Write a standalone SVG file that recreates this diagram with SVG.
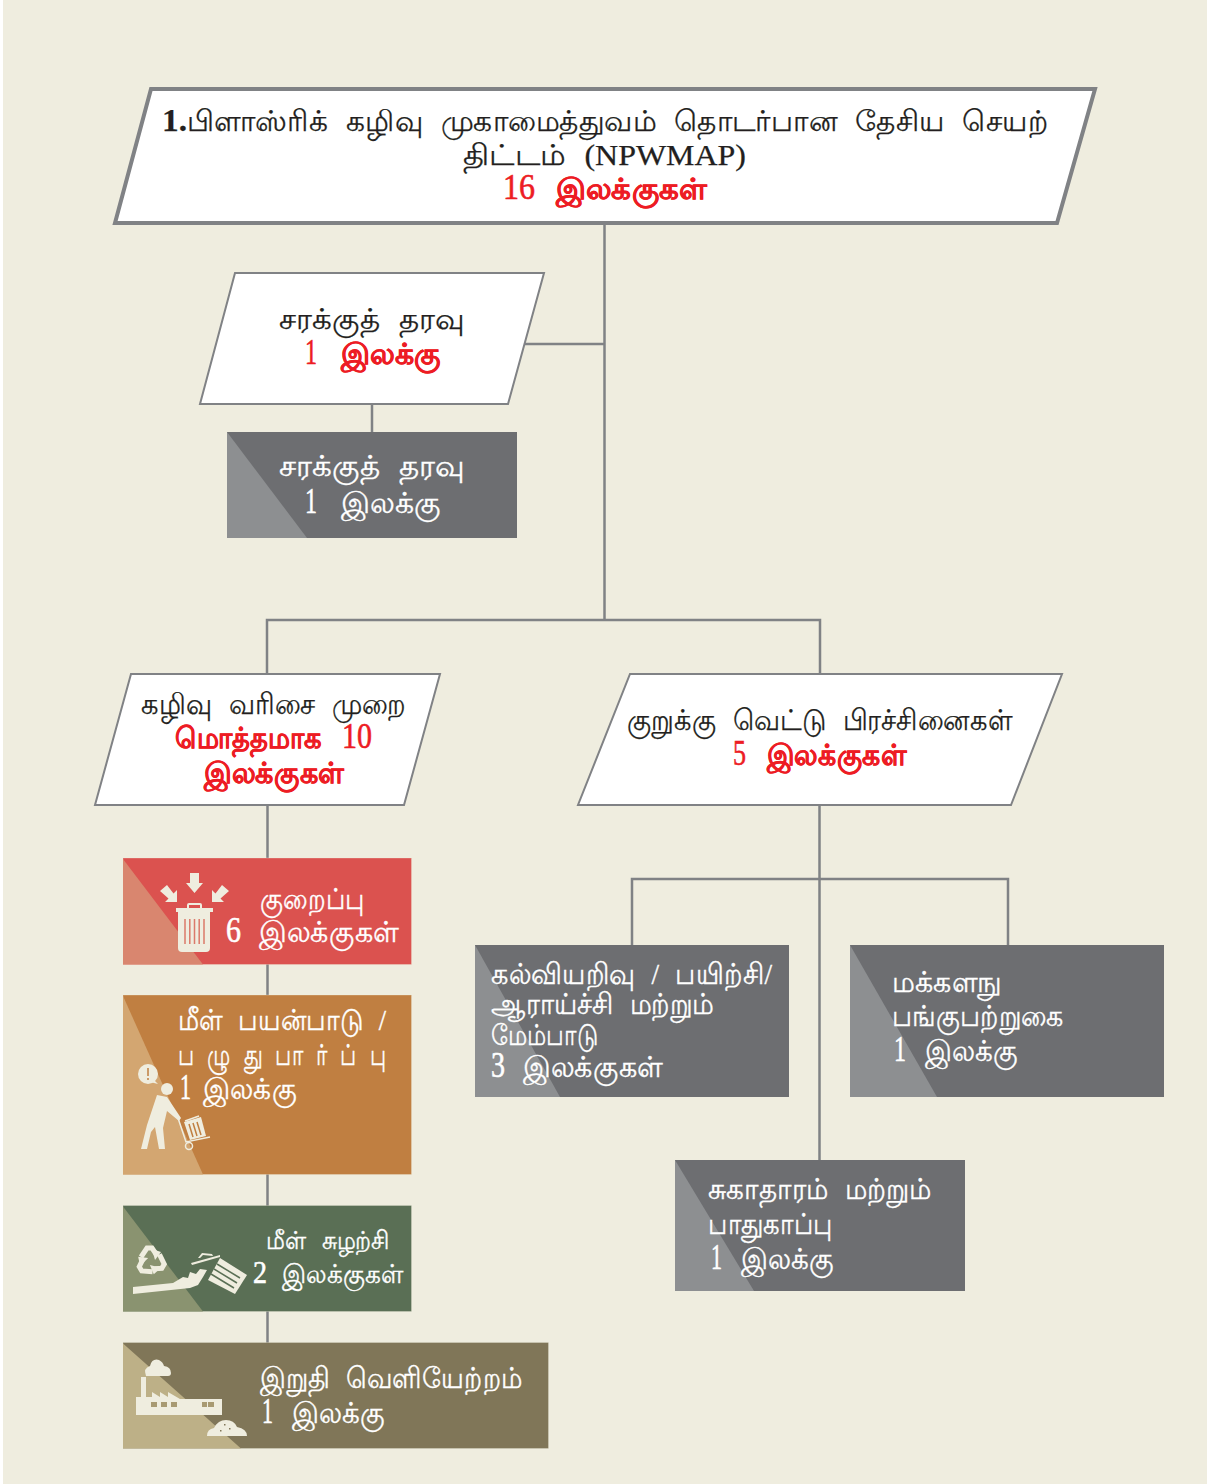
<svg xmlns="http://www.w3.org/2000/svg" width="1213" height="1484" viewBox="0 0 1213 1484">
<style>
text{font-family:"Liberation Serif","Noto Sans",serif;font-size:29px;word-spacing:10px}
.k{fill:#231f20;stroke:#231f20;stroke-width:.25}.r{fill:#ed1c24;stroke:#ed1c24;stroke-width:.3}.w{fill:#fff;stroke:#fff;stroke-width:.35}
.b{font-weight:bold}
.d{font-size:35px;font-weight:normal;stroke-width:.6}
.para{fill:#fff;stroke:#808285;stroke-width:2}
.wire{fill:none;stroke:#808285;stroke-width:2.5}
.ic{fill:#efeddf}
.edge{stroke:#efeddf;stroke-opacity:.3;stroke-width:1}
</style>
<defs>
<g id="rarrow"><path d="M-10 -4L-4 -13H1L5 -7" fill="none" stroke="#efeddf" stroke-width="5"/><path d="M1 -12L10 -9L4 -1Z" fill="#efeddf"/></g>
</defs>
<rect width="1213" height="1484" fill="#fff"/>
<rect x="3" y="0" width="1204" height="1484" fill="#efeddf"/>
<g id="connectors" class="wire">
<path d="M604.500 224V620M525 344H604.500M267 674V620H820V674M372 404V432"/>
<path d="M267.500 806V1343"/>
<path d="M819.500 806V1160M632 945V879H1008V945"/>
</g>
<g id="n-main">
<path d="M151 89H1095L1057 223H115Z" fill="#fff" stroke="#808285" stroke-width="4"/>
<text y="131" class="k"><tspan x="162" class="b" style="font-size:32px" textLength="25" lengthAdjust="spacingAndGlyphs">1.</tspan><tspan x="187" textLength="861" lengthAdjust="spacingAndGlyphs">பிளாஸ்ரிக் கழிவு முகாமைத்துவம் தொடர்பான தேசிய செயற்</tspan></text>
<text x="463" y="165" class="k" textLength="283" lengthAdjust="spacingAndGlyphs">திட்டம் (NPWMAP)</text>
<text y="199" class="r b"><tspan x="503" class="d" textLength="32" lengthAdjust="spacingAndGlyphs">16</tspan><tspan x="556" textLength="151" lengthAdjust="spacingAndGlyphs">இலக்குகள்</tspan></text>
</g>
<g id="n-cargo">
<path class="para" d="M235 273H544L508 404H200Z"/>
<text x="279" y="329" class="k" textLength="186" lengthAdjust="spacingAndGlyphs">சரக்குத் தரவு</text>
<text y="364" class="r b"><tspan x="305" class="d" textLength="12" lengthAdjust="spacingAndGlyphs">1</tspan><tspan x="341" textLength="100" lengthAdjust="spacingAndGlyphs">இலக்கு</tspan></text>
</g>
<g id="n-cargo-t">
<rect x="227" y="432" width="290" height="106" fill="#6d6e71"/>
<path d="M227 432V538H307Z" fill="#8d8f91"/>
<text x="279" y="476" class="w" textLength="186" lengthAdjust="spacingAndGlyphs">சரக்குத் தரவு</text>
<text y="513" class="w"><tspan x="305" class="d" textLength="12" lengthAdjust="spacingAndGlyphs">1</tspan><tspan x="341" textLength="100" lengthAdjust="spacingAndGlyphs">இலக்கு</tspan></text>
</g>
<g id="n-hier">
<path class="para" d="M131 674H440L404 805H95Z"/>
<text x="141" y="714" class="k" textLength="265" lengthAdjust="spacingAndGlyphs">கழிவு வரிசை முறை</text>
<text y="748" class="r b"><tspan x="175" textLength="147" lengthAdjust="spacingAndGlyphs">மொத்தமாக</tspan><tspan x="342" class="d" textLength="30" lengthAdjust="spacingAndGlyphs">10</tspan></text>
<text x="204" y="783" class="r b" textLength="140" lengthAdjust="spacingAndGlyphs">இலக்குகள்</text>
</g>
<g id="n-cross">
<path class="para" d="M630 674H1062L1011 805H578Z"/>
<text x="627" y="730" class="k" textLength="385" lengthAdjust="spacingAndGlyphs">குறுக்கு வெட்டு பிரச்சினைகள்</text>
<text y="765" class="r b"><tspan x="733" class="d" textLength="13" lengthAdjust="spacingAndGlyphs">5</tspan><tspan x="767" textLength="139" lengthAdjust="spacingAndGlyphs">இலக்குகள்</tspan></text>
</g>
<g id="n-reduce">
<rect class="edge" x="123" y="858" width="288.500" height="106.500" fill="#db524f"/>
<path d="M123 859V964.500H203Z" fill="#d9866f"/>
<g class="ic">
<path d="M190 873H199V883H203L194.500 893L186 883H190Z"/>
<path d="M160 891L167 885L173.500 893.500L177 890V902H165L168.500 898.500Z"/>
<path d="M229 891L222 885L215.500 893.500L212 890V902H224L220.500 898.500Z"/>
<path d="M176 908H213V912H176Z"/>
<path d="M187 908V905Q187 903 189 903H200Q202 903 202 905V908H200V905H189V908Z"/>
<path d="M178 912H210V948Q210 952 206 952H182Q178 952 178 948Z"/>
</g>
<path d="M185 919V944M189.800 919V944M194.500 919V944M199.200 919V944M204 919V944" stroke="#db7a6a" stroke-width="1.500"/>
<text x="260" y="909" class="w" textLength="105" lengthAdjust="spacingAndGlyphs">குறைப்பு</text>
<text y="942" class="w"><tspan x="226" class="d" textLength="15" lengthAdjust="spacingAndGlyphs">6</tspan><tspan x="259" textLength="140" lengthAdjust="spacingAndGlyphs">இலக்குகள்</tspan></text>
</g>
<g id="n-reuse">
<rect class="edge" x="123" y="995" width="288.500" height="179.500" fill="#c07f41"/>
<path d="M123 996V1174.500H203Z" fill="#d3a671"/>
<g class="ic">
<circle cx="148" cy="1074" r="10"/><path d="M150 1082L158 1084L152 1078Z"/>
<circle cx="167" cy="1089" r="6"/>
<path d="M157 1095L167 1097L181 1118L179 1121L167 1111L163 1128L165 1149L159 1149L155 1127L151 1132L147 1149L141 1149L147 1125Z"/>
<path d="M184 1122L201 1117L206 1136L190 1140Z"/>
<path d="M178 1118L186 1142L210 1137" fill="none" stroke="#efeddf" stroke-width="1.500"/>
<path d="M185 1121L199 1116" stroke="#efeddf" stroke-width="1.500"/>
<circle cx="189" cy="1146" r="3.500" fill="none" stroke="#efeddf" stroke-width="1.500"/>
</g>
<path d="M148 1068V1076M148 1078V1080M189 1124L193 1137M193 1123L197 1136M197 1122L201 1135" stroke="#c07f41" stroke-width="1.500"/>
<text x="178" y="1030" class="w" textLength="208" lengthAdjust="spacingAndGlyphs">மீள் பயன்பாடு /</text>
<text x="178" y="1065" class="w" textLength="208" lengthAdjust="spacingAndGlyphs">ப ழு து பா ர் ப் பு</text>
<text y="1099" class="w"><tspan x="180" class="d" textLength="11" lengthAdjust="spacingAndGlyphs">1</tspan><tspan x="203" textLength="94" lengthAdjust="spacingAndGlyphs">இலக்கு</tspan></text>
</g>
<g id="n-recycle">
<rect class="edge" x="123" y="1205.500" width="288.500" height="106" fill="#5a6f55"/>
<path d="M123 1206.500V1311.500H203Z" fill="#8a9370"/>
<use href="#rarrow" transform="translate(151 1261)"/>
<use href="#rarrow" transform="translate(151 1261) rotate(120)"/>
<use href="#rarrow" transform="translate(151 1261) rotate(240)"/>
<g class="ic">
<path d="M133 1287L173 1283L183 1277L188 1278L190 1272L196 1274L200 1269L207 1270L203 1277L198 1285L190 1288L133 1294Z"/>
<path d="M220 1258L247 1275L235 1294L208 1280Z"/>
<path d="M191 1263L220 1255L220 1257L192 1265Z"/>
<path d="M198 1258L202 1253L212 1254L213 1256L203 1255L200 1258Z"/>
</g>
<path d="M217 1264L240 1278M214 1269L237 1283M211 1274L234 1288" stroke="#5a6f55" stroke-width="1.500"/>
<text x="266" y="1249" class="w" textLength="124" lengthAdjust="spacingAndGlyphs" style="font-size:25px">மீள் சுழற்சி</text>
<text y="1283" class="w" style="font-size:26px"><tspan x="253" class="d" style="font-size:32px" textLength="14" lengthAdjust="spacingAndGlyphs">2</tspan><tspan x="282" textLength="121" lengthAdjust="spacingAndGlyphs">இலக்குகள்</tspan></text>
</g>
<g id="n-disposal">
<rect class="edge" x="123" y="1342.500" width="425.500" height="106" fill="#807658"/>
<path d="M123 1343.500V1448.500H241Z" fill="#bdb087"/>
<g class="ic">
<path d="M141 1377H146V1397H152V1392L160 1397V1392L168 1397V1392L180 1399H222V1415H136V1397H141Z"/>
<path d="M146 1376Q143 1368 150 1366Q152 1358 159 1360Q163 1362 164 1366Q171 1367 171 1373Q171 1376 168 1376Z"/>
<path d="M207 1436Q207 1429 214 1428Q218 1420 226 1420Q234 1420 237 1427Q247 1429 247 1436Z"/>
</g>
<path d="M151 1402h6v5h-6zM161 1402h6v5h-6zM171 1402h6v5h-6zM202 1402h5v5h-5zM208 1402h6v5h-6z" fill="#a89a72"/>
<path d="M220 1430h1.500v1.500h-1.500zM224 1424h1.500v1.500h-1.500zM229 1428h1.500v1.500h-1.500z" fill="#807658"/>
<text x="260" y="1388" class="w" textLength="262" lengthAdjust="spacingAndGlyphs">இறுதி வெளியேற்றம்</text>
<text y="1423" class="w"><tspan x="262" class="d" textLength="11" lengthAdjust="spacingAndGlyphs">1</tspan><tspan x="292" textLength="93" lengthAdjust="spacingAndGlyphs">இலக்கு</tspan></text>
</g>
<g id="n-edu">
<rect x="475" y="945" width="314" height="152" fill="#6d6e71"/>
<path d="M475 945V1097H560Z" fill="#8d8f91"/>
<text x="491" y="984" class="w" textLength="281" lengthAdjust="spacingAndGlyphs">கல்வியறிவு / பயிற்சி/</text>
<text x="491" y="1014" class="w" textLength="223" lengthAdjust="spacingAndGlyphs">ஆராய்ச்சி மற்றும்</text>
<text x="491" y="1045" class="w" textLength="107" lengthAdjust="spacingAndGlyphs">மேம்பாடு</text>
<text y="1077" class="w"><tspan x="491" class="d" textLength="14" lengthAdjust="spacingAndGlyphs">3</tspan><tspan x="523" textLength="140" lengthAdjust="spacingAndGlyphs">இலக்குகள்</tspan></text>
</g>
<g id="n-public">
<rect x="850" y="945" width="314" height="152" fill="#6d6e71"/>
<path d="M850 945V1097H937Z" fill="#8d8f91"/>
<text x="892" y="992" class="w" textLength="110" lengthAdjust="spacingAndGlyphs">மக்களநு</text>
<text x="892" y="1026" class="w" textLength="172" lengthAdjust="spacingAndGlyphs">பங்குபற்றுகை</text>
<text y="1061" class="w"><tspan x="894" class="d" textLength="12" lengthAdjust="spacingAndGlyphs">1</tspan><tspan x="925" textLength="93" lengthAdjust="spacingAndGlyphs">இலக்கு</tspan></text>
</g>
<g id="n-health">
<rect x="675" y="1160" width="290" height="131" fill="#6d6e71"/>
<path d="M675 1160V1291H754Z" fill="#8d8f91"/>
<text x="708" y="1199" class="w" textLength="223" lengthAdjust="spacingAndGlyphs">சுகாதாரம் மற்றும்</text>
<text x="708" y="1234" class="w" textLength="125" lengthAdjust="spacingAndGlyphs">பாதுகாப்பு</text>
<text y="1269" class="w"><tspan x="711" class="d" textLength="11" lengthAdjust="spacingAndGlyphs">1</tspan><tspan x="741" textLength="93" lengthAdjust="spacingAndGlyphs">இலக்கு</tspan></text>
</g>
</svg>
